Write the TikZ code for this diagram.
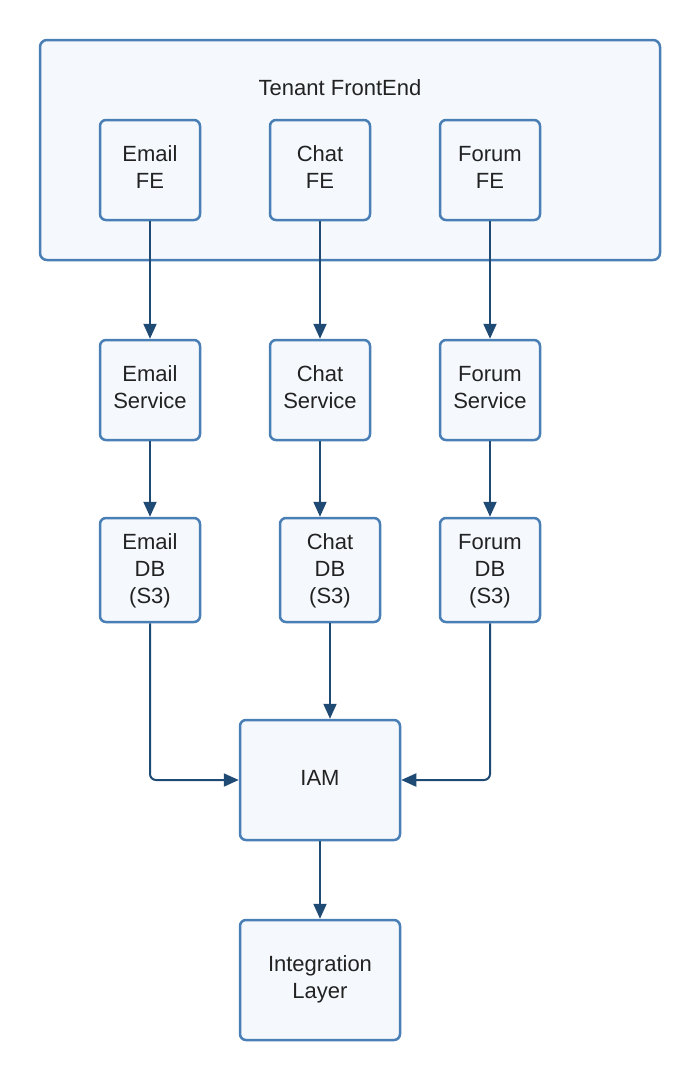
\documentclass[tikz,border=0pt]{standalone}
\usepackage{fontspec}
\setmainfont{Liberation Sans}
\usetikzlibrary{arrows.meta,positioning}
\definecolor{boxline}{HTML}{4A7FB5}
\definecolor{boxfill}{HTML}{F5F9FE}
\definecolor{flowcol}{HTML}{1F4A74}
\definecolor{textcol}{HTML}{222222}
\begin{document}
\begin{tikzpicture}[x=1pt,y=-1pt,
    box/.style={draw=boxline, fill=boxfill, line width=2.5pt, rounded corners=6pt,
        minimum width=100pt, minimum height=100pt, inner sep=0pt, align=center,
        text depth=6pt, text=textcol, font=\fontsize{22}{27}\selectfont},
    dbbox/.style={box, minimum height=104pt, text depth=2pt},
    flow/.style={draw=flowcol, line width=2pt, -{Triangle[length=15pt,width=13pt]}}]
\useasboundingbox (0,0) rectangle (700,1080);

% Tenant frame
\node[box, minimum width=620pt, minimum height=220pt, rounded corners=7pt] (tenant) at (350,150) {};
\node[text=textcol, font=\fontsize{22}{27}\selectfont] (tenantlbl) at (340,88) {Tenant FrontEnd};

% Front ends and services
\foreach \name/\txt/\x in {email/Email/150, chat/Chat/320, forum/Forum/490} {
    \node[box] (\name fe) at (\x,170) {\txt\\FE};
    \node[box] (\name svc) at (\x,390) {\txt\\Service};
}

% Databases
\node[dbbox] (emaildb) at (150,570) {Email\\DB\\(S3)};
\node[dbbox] (chatdb) at (330,570) {Chat\\DB\\(S3)};
\node[dbbox] (forumdb) at (490,570) {Forum\\DB\\(S3)};

% IAM and integration
\node[box, minimum width=160pt, minimum height=120pt, text depth=4pt] (iam) at (320,780) {IAM};
\node[box, minimum width=160pt, minimum height=120pt] (integ) at (320,980) {Integration\\Layer};

% Connectors
\foreach \name in {email, chat, forum}
    \draw[flow] (\name fe.south) -- (\name svc.north);
\draw[flow] (emailsvc.south) -- (emaildb.north);
\draw[flow] (chatsvc.south) -- (chatsvc.south |- chatdb.north);
\draw[flow] (forumsvc.south) -- (forumdb.north);
\draw[flow, rounded corners=6pt] (emaildb.south) |- (iam.west);
\draw[flow] (chatdb.south) -- (chatdb.south |- iam.north);
\draw[flow, rounded corners=6pt] (forumdb.south) |- (iam.east);
\draw[flow] (iam.south) -- (integ.north);
\end{tikzpicture}
\end{document}
